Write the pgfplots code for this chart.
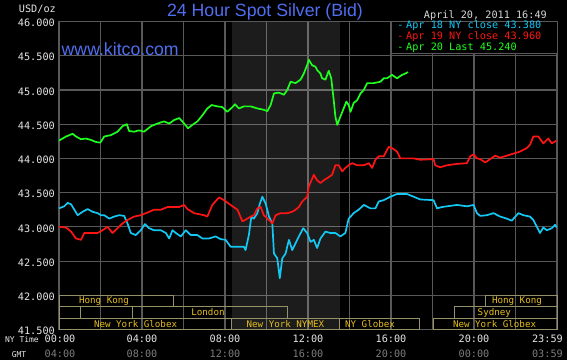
\documentclass[border=0pt]{standalone}
\usepackage{pgfplots}
\pgfplotsset{compat=1.18}
\usepackage{fontspec}
\setmainfont{Liberation Sans}
\newfontfamily\monof{DejaVu Sans Mono}
\definecolor{gridc}{RGB}{88,88,88}
\definecolor{cyanc}{RGB}{20,200,245}
\definecolor{redc}{RGB}{255,20,20}
\definecolor{greenc}{RGB}{30,255,30}
\definecolor{titleb}{RGB}{80,110,240}
\definecolor{sessb}{RGB}{150,145,105}
\definecolor{sesst}{RGB}{230,190,30}
\definecolor{tickw}{RGB}{230,230,230}
\definecolor{tickg}{RGB}{125,125,125}
\tikzset{sess/.style={font=\monof\fontsize{9.2}{10}\selectfont, text=sesst, inner sep=0pt, anchor=base}}
\begin{document}
\begin{tikzpicture}[x=1pt,y=1pt]
\fill[black] (0,0) rectangle (567,360);
\begin{axis}[
  at={(59pt,30.5pt)}, anchor=south west,
  scale only axis, width=498pt, height=308pt,
  xmin=0, xmax=24, ymin=41.5, ymax=46,
  axis line style={gridc, line width=1.1pt},
  xtick={0,2,4,6,8,10,12,14,16,18,20,22,24},
  xticklabels={},
  ytick={41.5,42,42.5,43,43.5,44,44.5,45,45.5,46},
  yticklabels={41.500,42.000,42.500,43.000,43.500,44.000,44.500,45.000,45.500,46.000},
  major tick length=0pt,
  grid=major,
  major grid style={draw=gridc, line width=1.1pt},
  yticklabel style={font=\monof\fontsize{10.2}{12}\selectfont, text=tickw, inner sep=0pt, xshift=-4pt, yshift=-1.5pt},
  clip=false,
]
\fill[white, fill opacity=0.11] (axis cs:8.33,41.5) rectangle (axis cs:13.55,46);
% session boxes
\draw[sessb,line width=1pt] (axis cs:0,41.8333) rectangle (axis cs:5.54,42);
\draw[sessb,line width=1pt] (axis cs:20.55,41.8333) rectangle (axis cs:24,42);
\draw[sessb,line width=1pt] (axis cs:0,41.6667) rectangle (axis cs:1.05,41.8333);
\draw[sessb,line width=1pt] (axis cs:3.53,41.6667) rectangle (axis cs:11.01,41.8333);
\draw[sessb,line width=1pt] (axis cs:19.04,41.6667) rectangle (axis cs:24,41.8333);
\draw[sessb,line width=1pt] (axis cs:0,41.5) rectangle (axis cs:8.31,41.6667);
\draw[sessb,line width=1pt] (axis cs:8.31,41.5) rectangle (axis cs:13.54,41.6667);
\draw[sessb,line width=1pt] (axis cs:13.54,41.5) rectangle (axis cs:17.37,41.6667);
\draw[sessb,line width=1pt] (axis cs:18.07,41.5) rectangle (axis cs:24,41.6667);
\node[sess] at (axis cs:2.17,41.875) {Hong Kong};
\node[sess] at (axis cs:22.07,41.875) {Hong Kong};
\node[sess] at (axis cs:7.18,41.705) {London};
\node[sess] at (axis cs:20.98,41.705) {Sydney};
\node[sess] at (axis cs:3.69,41.535) {New York Globex};
\node[sess] at (axis cs:10.91,41.535) {New York NYMEX};
\node[sess] at (axis cs:14.99,41.535) {NY Globex};
\node[sess] at (axis cs:20.99,41.535) {New York Globex};
% Apr 18
\addplot[cyanc, line width=1.7pt, line join=round] coordinates {
(0,43.27)(0.25,43.30)(0.42,43.35)(0.58,43.33)(0.74,43.25)(0.90,43.17)(1.14,43.22)(1.38,43.26)(1.62,43.22)(1.86,43.20)(2.02,43.17)(2.18,43.17)(2.42,43.12)(2.66,43.15)(2.90,43.17)(3.14,43.16)(3.30,43.05)(3.46,42.91)(3.70,42.88)(3.94,42.95)(4.14,43.04)(4.34,42.98)(4.58,42.95)(4.91,42.95)(5.15,42.91)(5.31,42.83)(5.47,42.95)(5.63,42.91)(5.87,42.86)(6.11,42.95)(6.35,42.88)(6.67,42.88)(6.91,42.83)(7.23,42.83)(7.55,42.86)(7.79,42.82)(8.03,42.81)(8.27,42.71)(8.60,42.71)(8.91,42.71)(8.99,42.66)(9.15,42.88)(9.27,43.15)(9.39,43.12)(9.56,43.20)(9.68,43.34)(9.80,43.44)(9.96,43.34)(10.12,43.15)(10.28,43.05)(10.36,42.61)(10.52,42.54)(10.64,42.25)(10.76,42.54)(10.92,42.61)(11.08,42.81)(11.24,42.66)(11.40,42.76)(11.56,42.86)(11.77,42.98)(11.96,42.91)(12.12,42.78)(12.28,42.81)(12.44,42.69)(12.60,42.83)(12.84,42.93)(13.08,42.91)(13.32,42.91)(13.56,42.86)(13.80,42.91)(13.96,43.12)(14.20,43.20)(14.44,43.25)(14.69,43.32)(15.01,43.27)(15.25,43.27)(15.41,43.37)(15.65,43.39)(15.97,43.44)(16.29,43.48)(16.77,43.48)(17.09,43.44)(17.41,43.40)(18.05,43.39)(18.22,43.27)(18.46,43.29)(18.70,43.30)(19.18,43.32)(19.66,43.30)(19.98,43.32)(20.14,43.20)(20.30,43.16)(20.62,43.17)(20.94,43.20)(21.26,43.15)(21.58,43.12)(21.82,43.09)(22.14,43.20)(22.38,43.17)(22.70,43.15)(22.86,43.10)(23.03,43.00)(23.18,42.91)(23.34,42.99)(23.51,42.95)(23.75,42.98)(23.91,43.03)(23.98,42.99)
};
% Apr 19
\addplot[redc, line width=1.7pt, line join=round] coordinates {
(0,43.00)(0.34,42.99)(0.58,42.93)(0.82,42.83)(1.06,42.81)(1.22,42.91)(1.54,42.91)(1.86,42.91)(2.10,42.95)(2.34,43.00)(2.58,42.91)(2.82,42.98)(3.06,43.05)(3.30,43.10)(3.62,43.15)(3.94,43.17)(4.27,43.21)(4.58,43.25)(4.91,43.25)(5.23,43.29)(5.55,43.29)(5.79,43.29)(6.03,43.32)(6.19,43.26)(6.51,43.20)(6.99,43.17)(7.15,43.15)(7.39,43.32)(7.71,43.43)(7.95,43.39)(8.27,43.32)(8.60,43.25)(8.84,43.08)(9.08,43.12)(9.24,43.15)(9.39,43.17)(9.56,43.27)(9.72,43.29)(9.87,43.17)(10.12,43.10)(10.28,43.05)(10.44,43.17)(10.68,43.20)(11.00,43.20)(11.24,43.22)(11.40,43.25)(11.56,43.29)(11.72,43.37)(11.96,43.44)(12.04,43.59)(12.28,43.76)(12.44,43.68)(12.60,43.64)(12.76,43.68)(12.92,43.71)(13.16,43.76)(13.32,43.90)(13.48,43.90)(13.65,43.81)(13.80,43.86)(13.96,43.90)(14.13,43.93)(14.37,43.90)(14.69,43.90)(14.93,43.93)(15.09,43.86)(15.25,43.98)(15.41,44.03)(15.65,44.03)(15.89,44.17)(16.05,44.15)(16.29,44.10)(16.45,44.00)(16.77,44.00)(17.09,44.00)(17.41,43.98)(18.05,43.99)(18.13,43.90)(18.37,43.87)(18.70,43.90)(19.18,43.92)(19.66,43.93)(19.82,44.03)(19.98,44.06)(20.14,44.00)(20.30,43.99)(20.54,43.94)(20.78,43.99)(21.02,44.04)(21.26,44.01)(21.58,44.04)(21.90,44.07)(22.22,44.10)(22.54,44.15)(22.70,44.20)(22.86,44.32)(23.10,44.32)(23.34,44.22)(23.58,44.29)(23.75,44.22)(23.98,44.26)
};
% Apr 20
\addplot[greenc, line width=1.7pt, line join=round] coordinates {
(0,44.26)(0.34,44.32)(0.66,44.36)(0.82,44.32)(1.06,44.28)(1.30,44.29)(1.54,44.27)(1.78,44.24)(1.99,44.23)(2.18,44.32)(2.50,44.34)(2.82,44.39)(3.06,44.47)(3.27,44.50)(3.38,44.40)(3.62,44.39)(3.86,44.41)(4.10,44.39)(4.43,44.47)(4.75,44.51)(5.06,44.54)(5.31,44.51)(5.55,44.56)(5.79,44.59)(6.03,44.51)(6.22,44.44)(6.43,44.49)(6.67,44.54)(6.91,44.63)(7.15,44.73)(7.36,44.78)(7.63,44.76)(7.87,44.75)(8.11,44.68)(8.36,44.75)(8.48,44.79)(8.67,44.73)(8.91,44.76)(9.24,44.76)(9.56,44.73)(9.87,44.71)(10.04,44.69)(10.20,44.78)(10.36,44.95)(10.60,44.96)(10.84,44.93)(11.00,45.00)(11.16,45.12)(11.40,45.10)(11.64,45.15)(11.80,45.24)(11.99,45.39)(12.04,45.44)(12.20,45.36)(12.36,45.34)(12.44,45.29)(12.60,45.24)(12.68,45.17)(12.84,45.15)(13.00,45.28)(13.12,45.17)(13.24,44.85)(13.32,44.61)(13.41,44.49)(13.56,44.61)(13.72,44.73)(13.85,44.83)(13.96,44.78)(14.05,44.68)(14.20,44.81)(14.37,44.85)(14.53,44.95)(14.69,45.00)(14.85,45.10)(15.17,45.10)(15.49,45.12)(15.65,45.17)(15.81,45.17)(16.05,45.22)(16.29,45.17)(16.53,45.22)(16.69,45.24)(16.82,45.26)
};
\end{axis}
% titles and labels
\node[anchor=base, text=titleb, font=\fontsize{17.7}{20}\selectfont, inner sep=0pt] at (265,343.5) {24 Hour Spot Silver (Bid)};
\node[anchor=base west, text=titleb, font=\fontsize{17.7}{20}\selectfont, inner sep=0pt] at (61.5,305) {www.kitco.com};
\node[anchor=base east, text=tickw, font=\monof\fontsize{10.2}{12}\selectfont, inner sep=0pt] at (56,348) {USD/oz};
\node[anchor=base east, text={rgb,255:red,215;green,215;blue,215}, font=\monof\fontsize{10.2}{12}\selectfont, inner sep=0pt] at (547,342) {April 20, 2011 16:49};
% legend
\draw[gridc, fill=black, line width=1pt] (391.7,306.7) rectangle (557,339);
\begin{scope}[every node/.style={font=\monof\fontsize{10.2}{12}\selectfont, inner sep=0pt}]
\node[anchor=base, text=cyanc] at (400.4,331.3) {-};
\node[anchor=base west, text=cyanc] at (406,331.3) {Apr 18 NY close 43.380};
\node[anchor=base, text=redc] at (400.4,320.3) {-};
\node[anchor=base west, text=redc] at (406,320.3) {Apr 19 NY close 43.960};
\node[anchor=base, text=greenc] at (400.4,309.3) {-};
\node[anchor=base west, text=greenc] at (406,309.3) {Apr 20 Last 45.240};
\end{scope}
% x labels
\begin{scope}[every node/.style={font=\monof\fontsize{10.2}{12}\selectfont, inner sep=0pt}]
\node[anchor=base east, text=tickw, font=\monof\fontsize{8}{10}\selectfont] at (39,18) {NY Time};
\node[anchor=base, text=tickw, font=\monof\fontsize{8}{10}\selectfont] at (19,3) {GMT};
\node[anchor=base, text=tickw] at (60,18) {00:00};
\node[anchor=base, text=tickw] at (142,18) {04:00};
\node[anchor=base, text=tickw] at (225,18) {08:00};
\node[anchor=base, text=tickw] at (308,18) {12:00};
\node[anchor=base, text=tickw] at (391,18) {16:00};
\node[anchor=base, text=tickw] at (474,18) {20:00};
\node[anchor=base east, text=tickw] at (563,18) {23:59};
\node[anchor=base, text=tickg] at (60,3) {04:00};
\node[anchor=base, text=tickg] at (142,3) {08:00};
\node[anchor=base, text=tickg] at (225,3) {12:00};
\node[anchor=base, text=tickg] at (308,3) {16:00};
\node[anchor=base, text=tickg] at (391,3) {20:00};
\node[anchor=base, text=tickg] at (474,3) {00:00};
\node[anchor=base east, text=tickg] at (563,3) {03:59};
\end{scope}
\pgfresetboundingbox
\useasboundingbox (0,0) rectangle (567,360);
\end{tikzpicture}
\end{document}
